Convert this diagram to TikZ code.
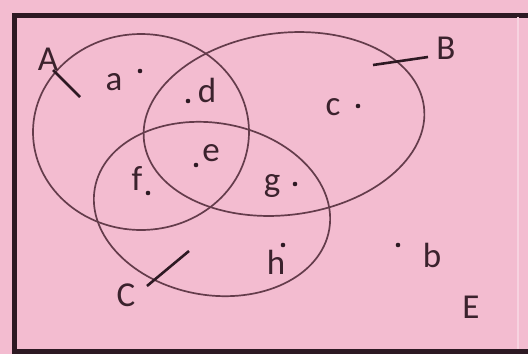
\documentclass[tikz,border=0pt]{standalone}
\usepackage{fontspec}
\setmainfont{Carlito}
\definecolor{sheet}{RGB}{243,188,208}
\definecolor{ink}{RGB}{100,60,75}
\definecolor{frame}{RGB}{45,25,35}

\begin{document}
\begin{tikzpicture}[x=1pt, y=-1pt,
    setline/.style={ink, line width=1.7pt},
    pointdot/.style={circle, fill=frame, inner sep=0pt, minimum size=4.6pt},
    lbl/.style={text=frame!75!ink, font=\fontsize{35}{40}\selectfont, inner sep=0pt},
    tickline/.style={frame, line width=2.6pt}]
    % sheet and frame
    \fill[sheet] (0,0) rectangle (528,354);
    \useasboundingbox (0,0) rectangle (528,354);
    \draw[frame, line width=5pt] (530,15) -- (14,15) -- (14,351) -- (530,351);
    \draw[white!35!sheet, line width=1.5pt] (518,17) -- (518,349);
    % the three sets
    \draw[setline] (141,132) ellipse [x radius=108, y radius=98];
    \draw[setline, rotate around={7:(284,124)}] (284,124) ellipse [x radius=141, y radius=91];
    \draw[setline, rotate around={-10:(212,209)}] (212,209) ellipse [x radius=119, y radius=86];
    % set names and their ticks
    \node[lbl] (setA) at (48,59) {A};
    \node[lbl] (setB) at (446,48) {B};
    \node[lbl] (setC) at (126,295) {C};
    \node[lbl] (setE) at (471,307) {E};
    \coordinate (tickA1) at (53,70);
    \coordinate (tickA2) at (80,97);
    \coordinate (tickB1) at (373,65);
    \coordinate (tickB2) at (428,57);
    \coordinate (tickC1) at (147,286);
    \coordinate (tickC2) at (189,251);
    \draw[tickline] (tickA1) -- (tickA2);
    \draw[tickline] (tickB1) -- (tickB2);
    \draw[tickline] (tickC1) -- (tickC2);
    % elements
    \node[pointdot] (pa) at (140,71) {};
    \node[lbl] (la) at (114,82) {a};
    \node[pointdot] (pd) at (188,101) {};
    \node[lbl] (ld) at (207,90) {d};
    \node[pointdot] (pc) at (358,106) {};
    \node[lbl] (lc) at (333,107) {c};
    \node[pointdot] (pe) at (196,165) {};
    \node[lbl] (le) at (211,153) {e};
    \node[pointdot] (pf) at (148,193) {};
    \node[lbl] (lf) at (137,178) {f};
    \node[pointdot] (pg) at (295,184) {};
    \node[lbl] (lg) at (272,186) {g};
    \node[pointdot] (ph) at (283,245) {};
    \node[lbl] (lh) at (276,262) {h};
    \node[pointdot] (pb) at (398,245) {};
    \node[lbl] (lb) at (432,255) {b};
\end{tikzpicture}
\end{document}
